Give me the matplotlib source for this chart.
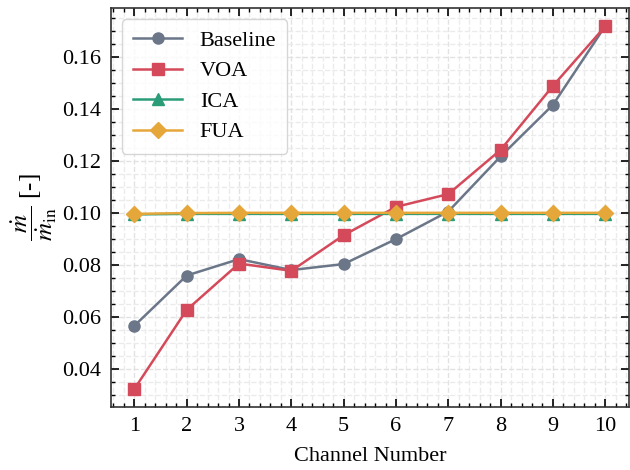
import numpy as np
import matplotlib
matplotlib.use("Agg")
import matplotlib.pyplot as plt
from matplotlib.ticker import MultipleLocator

# 数据
channels = [1, 2, 3, 4, 5, 6, 7, 8, 9, 10]
baseline = [0.0566, 0.0759, 0.0822, 0.0780, 0.0803, 0.0899, 0.1005, 0.1217, 0.1415, 0.1718]
voa = [0.0323, 0.0627, 0.0805, 0.0777, 0.0914, 0.1023, 0.1072, 0.1242, 0.1488, 0.1717]
ica = [0.0994, 0.0996, 0.0996, 0.0996, 0.0996, 0.0996, 0.0996, 0.0996, 0.0996, 0.0996]
fua = [0.0996, 0.0999, 0.1000, 0.1000, 0.1000, 0.1000, 0.1000, 0.1000, 0.1000, 0.1000]

plt.rcParams['font.family'] = ['Liberation Serif', 'DejaVu Serif']
plt.rcParams['mathtext.fontset'] = 'stix'
plt.rcParams['font.size'] = 16

fig, ax = plt.subplots(figsize=(6.3, 4.7), dpi=100)

ax.plot(channels, baseline, marker='o', color='#6b7789', lw=1.8, ms=8, label='Baseline')
ax.plot(channels, voa, marker='s', color='#d44a5a', lw=1.8, ms=8, label='VOA')
ax.plot(channels, ica, marker='^', color='#2a9d78', lw=1.8, ms=8, label='ICA')
ax.plot(channels, fua, marker='D', color='#e6a73a', lw=1.8, ms=8, label='FUA')

ax.set_xticks(channels)
ax.xaxis.set_minor_locator(MultipleLocator(0.2))
ax.yaxis.set_major_locator(MultipleLocator(0.02))
ax.yaxis.set_minor_locator(MultipleLocator(0.005))
ax.yaxis.set_major_formatter(matplotlib.ticker.FormatStrFormatter('%.2f'))

ax.tick_params(which='both', direction='in', top=True, right=True)
ax.tick_params(which='major', length=6, width=1.2, pad=7)
ax.tick_params(which='minor', length=3, width=1)
for s in ax.spines.values():
    s.set_linewidth(1.2)
    s.set_color('#333333')

ax.grid(which='major', ls='--', color='#e2e2e2', lw=1.0)
ax.grid(which='minor', ls='--', color='#ebebeb', lw=1.0)
ax.set_axisbelow(True)

ax.set_xlabel('Channel Number', labelpad=8)
ax.set_ylabel(r'$\dfrac{\dot{m}}{\dot{m}_\mathrm{in}}$ [-]', fontsize=18, labelpad=2)

leg = ax.legend(loc='upper left', fancybox=True, framealpha=0.8, edgecolor='#cccccc',
                handlelength=2.2, borderpad=0.5, labelspacing=0.45)

fig.subplots_adjust(left=0.176, right=0.998, top=0.983, bottom=0.134)
fig.savefig('out.png', dpi=100)
